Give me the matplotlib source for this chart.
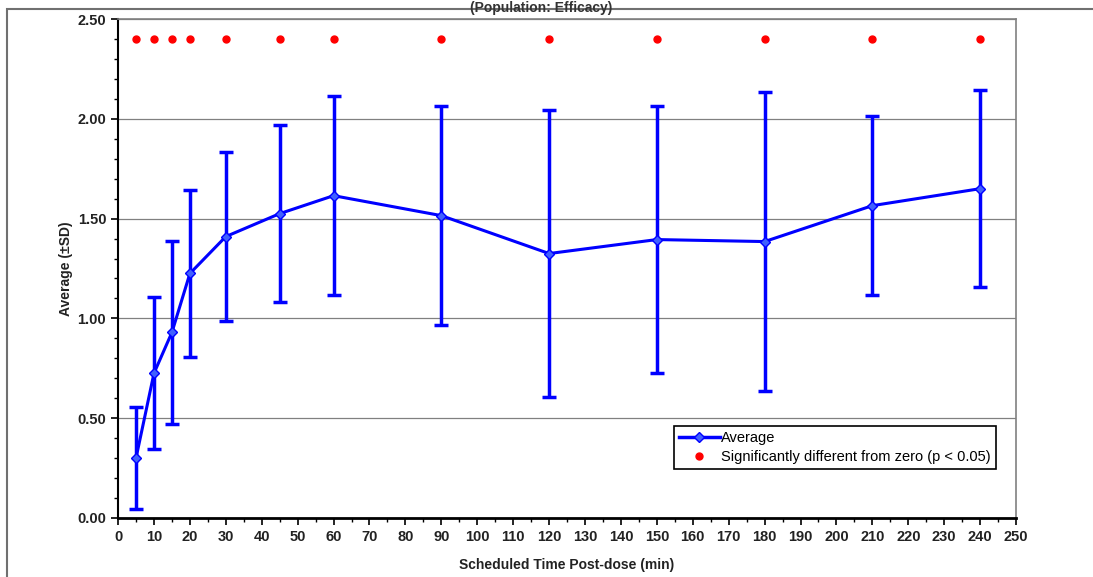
import matplotlib.pyplot as plt
from matplotlib.lines import Line2D
from matplotlib.patches import Rectangle
from matplotlib.ticker import MultipleLocator

# data
times = [5, 10, 15, 20, 30, 45, 60, 90, 120, 150, 180, 210, 240]
average = [0.30, 0.725, 0.93, 1.225, 1.41, 1.525, 1.615, 1.515, 1.325, 1.395, 1.385, 1.565, 1.65]
sd = [0.255, 0.38, 0.46, 0.42, 0.425, 0.445, 0.50, 0.55, 0.72, 0.67, 0.75, 0.45, 0.495]
signif_level = [2.40] * len(times)

plt.rcParams["font.family"] = ["Liberation Sans", "DejaVu Sans"]

fig = plt.figure(figsize=(10.93, 5.77), dpi=100)
ax = fig.add_axes([0.108, 0.1023, 0.8216, 0.8647])

# outer frame of the original figure
fig.patches.append(Rectangle((7 / 1093, -0.05), 1.1, 1.05 - 9 / 577,
                             transform=fig.transFigure, fill=False,
                             edgecolor="#707070", linewidth=1.5))
fig.text(0.495, 0.999, "(Population: Efficacy)", ha="center", va="top",
         fontsize=10, fontweight="bold", color="#333333")

ax.errorbar(times, average, yerr=sd, color="#0000FF", linewidth=2.2,
            elinewidth=2.5, capsize=5, capthick=2.5,
            marker="D", markersize=5, markerfacecolor="#4060FF",
            markeredgecolor="#0000FF", zorder=3)
ax.plot(times, signif_level, linestyle="none", marker="o", markersize=5,
        color="#FF0000")

ax.set_xlim(0, 250)
ax.set_ylim(0, 2.5)
ax.xaxis.set_major_locator(MultipleLocator(10))
ax.xaxis.set_minor_locator(MultipleLocator(5))
ax.yaxis.set_major_locator(MultipleLocator(0.5))
ax.yaxis.set_minor_locator(MultipleLocator(0.1))
ax.yaxis.set_major_formatter(plt.FormatStrFormatter("%.2f"))
ax.tick_params(axis="both", which="major", length=5, width=1.2,
               labelsize=10.5, direction="out")
ax.tick_params(axis="both", which="minor", length=3, width=1.0, direction="out")
for lbl in ax.get_xticklabels() + ax.get_yticklabels():
    lbl.set_fontweight("bold")
    lbl.set_color("#222222")

ax.grid(axis="y", which="major", color="#808080", linewidth=0.9)
ax.set_axisbelow(True)
ax.spines["left"].set_color("black")
ax.spines["bottom"].set_color("black")
ax.spines["left"].set_linewidth(1.5)
ax.spines["bottom"].set_linewidth(2)
ax.spines["top"].set_color("#808080")
ax.spines["right"].set_color("#808080")
ax.spines["top"].set_linewidth(1.2)
ax.spines["right"].set_linewidth(1.2)

ax.set_xlabel("Scheduled Time Post-dose (min)", fontsize=10, fontweight="bold",
              color="#222222", labelpad=10)
ax.set_ylabel("Average (\u00b1SD)", fontsize=10, fontweight="bold",
              color="#222222", labelpad=3)

handles = [
    Line2D([], [], color="#0000FF", linewidth=2.5, marker="D", markersize=5,
           markerfacecolor="#4060FF", markeredgecolor="#0000FF"),
    Line2D([], [], color="#FF0000", linestyle="none", marker="o", markersize=5),
]
labels = ["Average", "Significantly different from zero (p < 0.05)"]
leg = ax.legend(handles, labels, loc="upper right",
                bbox_to_anchor=(996 / 1093, 1 - 426 / 577),
                bbox_transform=fig.transFigure, fancybox=False, framealpha=1,
                edgecolor="black", fontsize=10.5, borderpad=0.35,
                handlelength=2.8, handletextpad=0.1, labelspacing=0.35,
                borderaxespad=0)
leg.get_frame().set_linewidth(1.2)

fig.savefig("out.png", dpi=100)
